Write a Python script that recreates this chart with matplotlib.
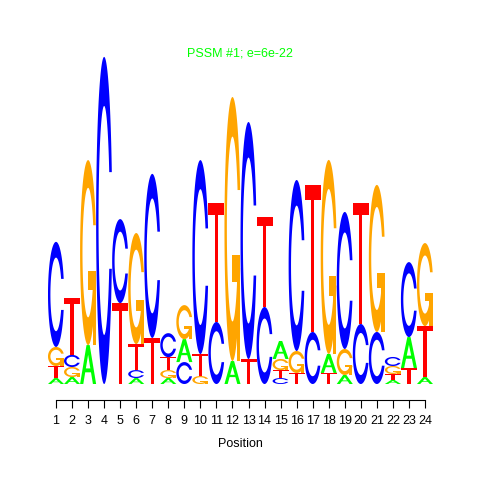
import numpy as np
import matplotlib
matplotlib.use('Agg')
import matplotlib.pyplot as plt
from matplotlib.patches import Polygon

# information content (bits) per letter at each position
positions = list(range(1, 25))
A = [0.035, 0.041, 0.229, 0, 0, 0.035, 0, 0.035, 0.135, 0, 0, 0.135,
     0, 0, 0.106, 0, 0, 0.112, 0.053, 0, 0, 0.024, 0.182, 0.041]
C = [0.618, 0.071, 0, 1.924, 0.494, 0.047, 0.965, 0.141, 0.129, 1.141, 0.365, 0,
     1.394, 0.453, 0.035, 1.006, 0.306, 0, 0.806, 0.353, 0.306, 0.053, 0.441, 0]
G = [0.112, 0.059, 1.088, 0, 0, 0.653, 0, 0.047, 0.2, 0.047, 0, 1.553,
     0, 0, 0.065, 0.129, 0, 1.141, 0.153, 0, 0.865, 0.047, 0, 0.488]
T = [0.071, 0.335, 0, 0, 0.476, 0.153, 0.271, 0.076, 0, 0.129, 0.7, 0,
     0.147, 0.529, 0.047, 0.065, 0.865, 0.065, 0, 0.712, 0, 0.035, 0.094, 0.3]
title = 'PSSM #1; e=6e-22'

colors = {'A': '#00ff00', 'C': '#0000ff', 'G': '#ffa500', 'T': '#ff0000'}


# letter shapes in a unit box (like the seqLogo ones)
def shape_c():
    a1 = np.linspace(0.3 + np.pi / 2, np.pi, 100)
    a2 = np.linspace(np.pi, 1.5 * np.pi, 100)
    xl = np.concatenate([0.5 + 0.5 * np.sin(a1), 0.5 + 0.5 * np.sin(a2)])
    yl = np.concatenate([0.5 + 0.5 * np.cos(a1), 0.5 + 0.5 * np.cos(a2)])
    hmax = (0.5 + 0.5 * np.cos(a1)).max()
    x = np.concatenate([xl, xl[::-1]])
    y = np.concatenate([yl, 1 - yl[::-1]])
    xi1 = 0.5 + 0.35 * np.sin(a1)
    yi1 = 0.5 + 0.35 * np.cos(a1)
    keep = yi1 <= hmax
    xi1, yi1 = xi1[keep], yi1[keep]
    yi1[0] = hmax
    xi = np.concatenate([xi1, 0.5 + 0.35 * np.sin(a2)])
    yi = np.concatenate([yi1, 0.5 + 0.35 * np.cos(a2)])
    x1 = np.concatenate([xi, xi[::-1]])
    y1 = np.concatenate([yi, 1 - yi[::-1]])
    x = np.concatenate([x, x1[::-1]])
    y = np.concatenate([y, y1[::-1]])
    return x, y


def shapes(ch):
    if ch == 'A':
        return [(np.array([0, 4, 6, 10, 8, 6.8, 3.2, 2, 0]) / 10,
                 np.array([0, 10, 10, 0, 0, 3, 3, 0, 0]) / 10, None),
                (np.array([3.6, 5, 6.4, 3.6]) / 10,
                 np.array([4, 7.5, 4, 4]) / 10, 'white')]
    if ch == 'T':
        return [(np.array([0, 10, 10, 6, 6, 4, 4, 0]) / 10,
                 np.array([10, 10, 9, 9, 0, 0, 9, 9]) / 10, None)]
    x, y = shape_c()
    out = [(x, y, None)]
    if ch == 'G':
        r1 = 0.5 + 0.5 * np.sin(0.3 + np.pi / 2)
        h1 = 0.4
        out.append((np.array([r1, 0.5, 0.5, r1 - 0.2, r1 - 0.2, r1, r1]),
                    np.array([h1, h1, h1 - 0.1, h1 - 0.1, 0, 0, h1]), None))
    return out


fig = plt.figure(figsize=(4.8, 4.8), dpi=100)
ax = fig.add_axes([48/480, 80/480, 385/480, 356/480])
ax.set_xlim(0.5, 24.5)
ax.set_ylim(-16/170, 2.0)

for i, p in enumerate(positions):
    col = sorted([('A', A[i]), ('C', C[i]), ('G', G[i]), ('T', T[i])], key=lambda t: t[1])
    y0 = 0
    for ch, h in col:
        if h > 0:
            for sx, sy, fc in shapes(ch):
                pts = np.column_stack([p - 0.5 + sx, y0 + h * sy])
                ax.add_patch(Polygon(pts, closed=True, fc=fc or colors[ch], ec='none'))
            y0 += h

for s in ['left', 'top', 'right']:
    ax.spines[s].set_visible(False)
ax.spines['bottom'].set_bounds(1, 24)
ax.spines['bottom'].set_linewidth(0.8)
ax.set_yticks([])
ax.set_xticks(positions)
ax.set_xticklabels([str(p) for p in positions], fontsize=9, family='Liberation Sans')
ax.tick_params(axis='x', length=6, width=0.8, pad=5)
ax.set_xlabel('Position', fontsize=9, family='Liberation Sans', labelpad=8)

fig.text(240/480, 1 - 53/480, title, color='#00ff00', fontsize=9,
         family='Liberation Sans', ha='center', va='center')

fig.savefig('out.png', dpi=100)
